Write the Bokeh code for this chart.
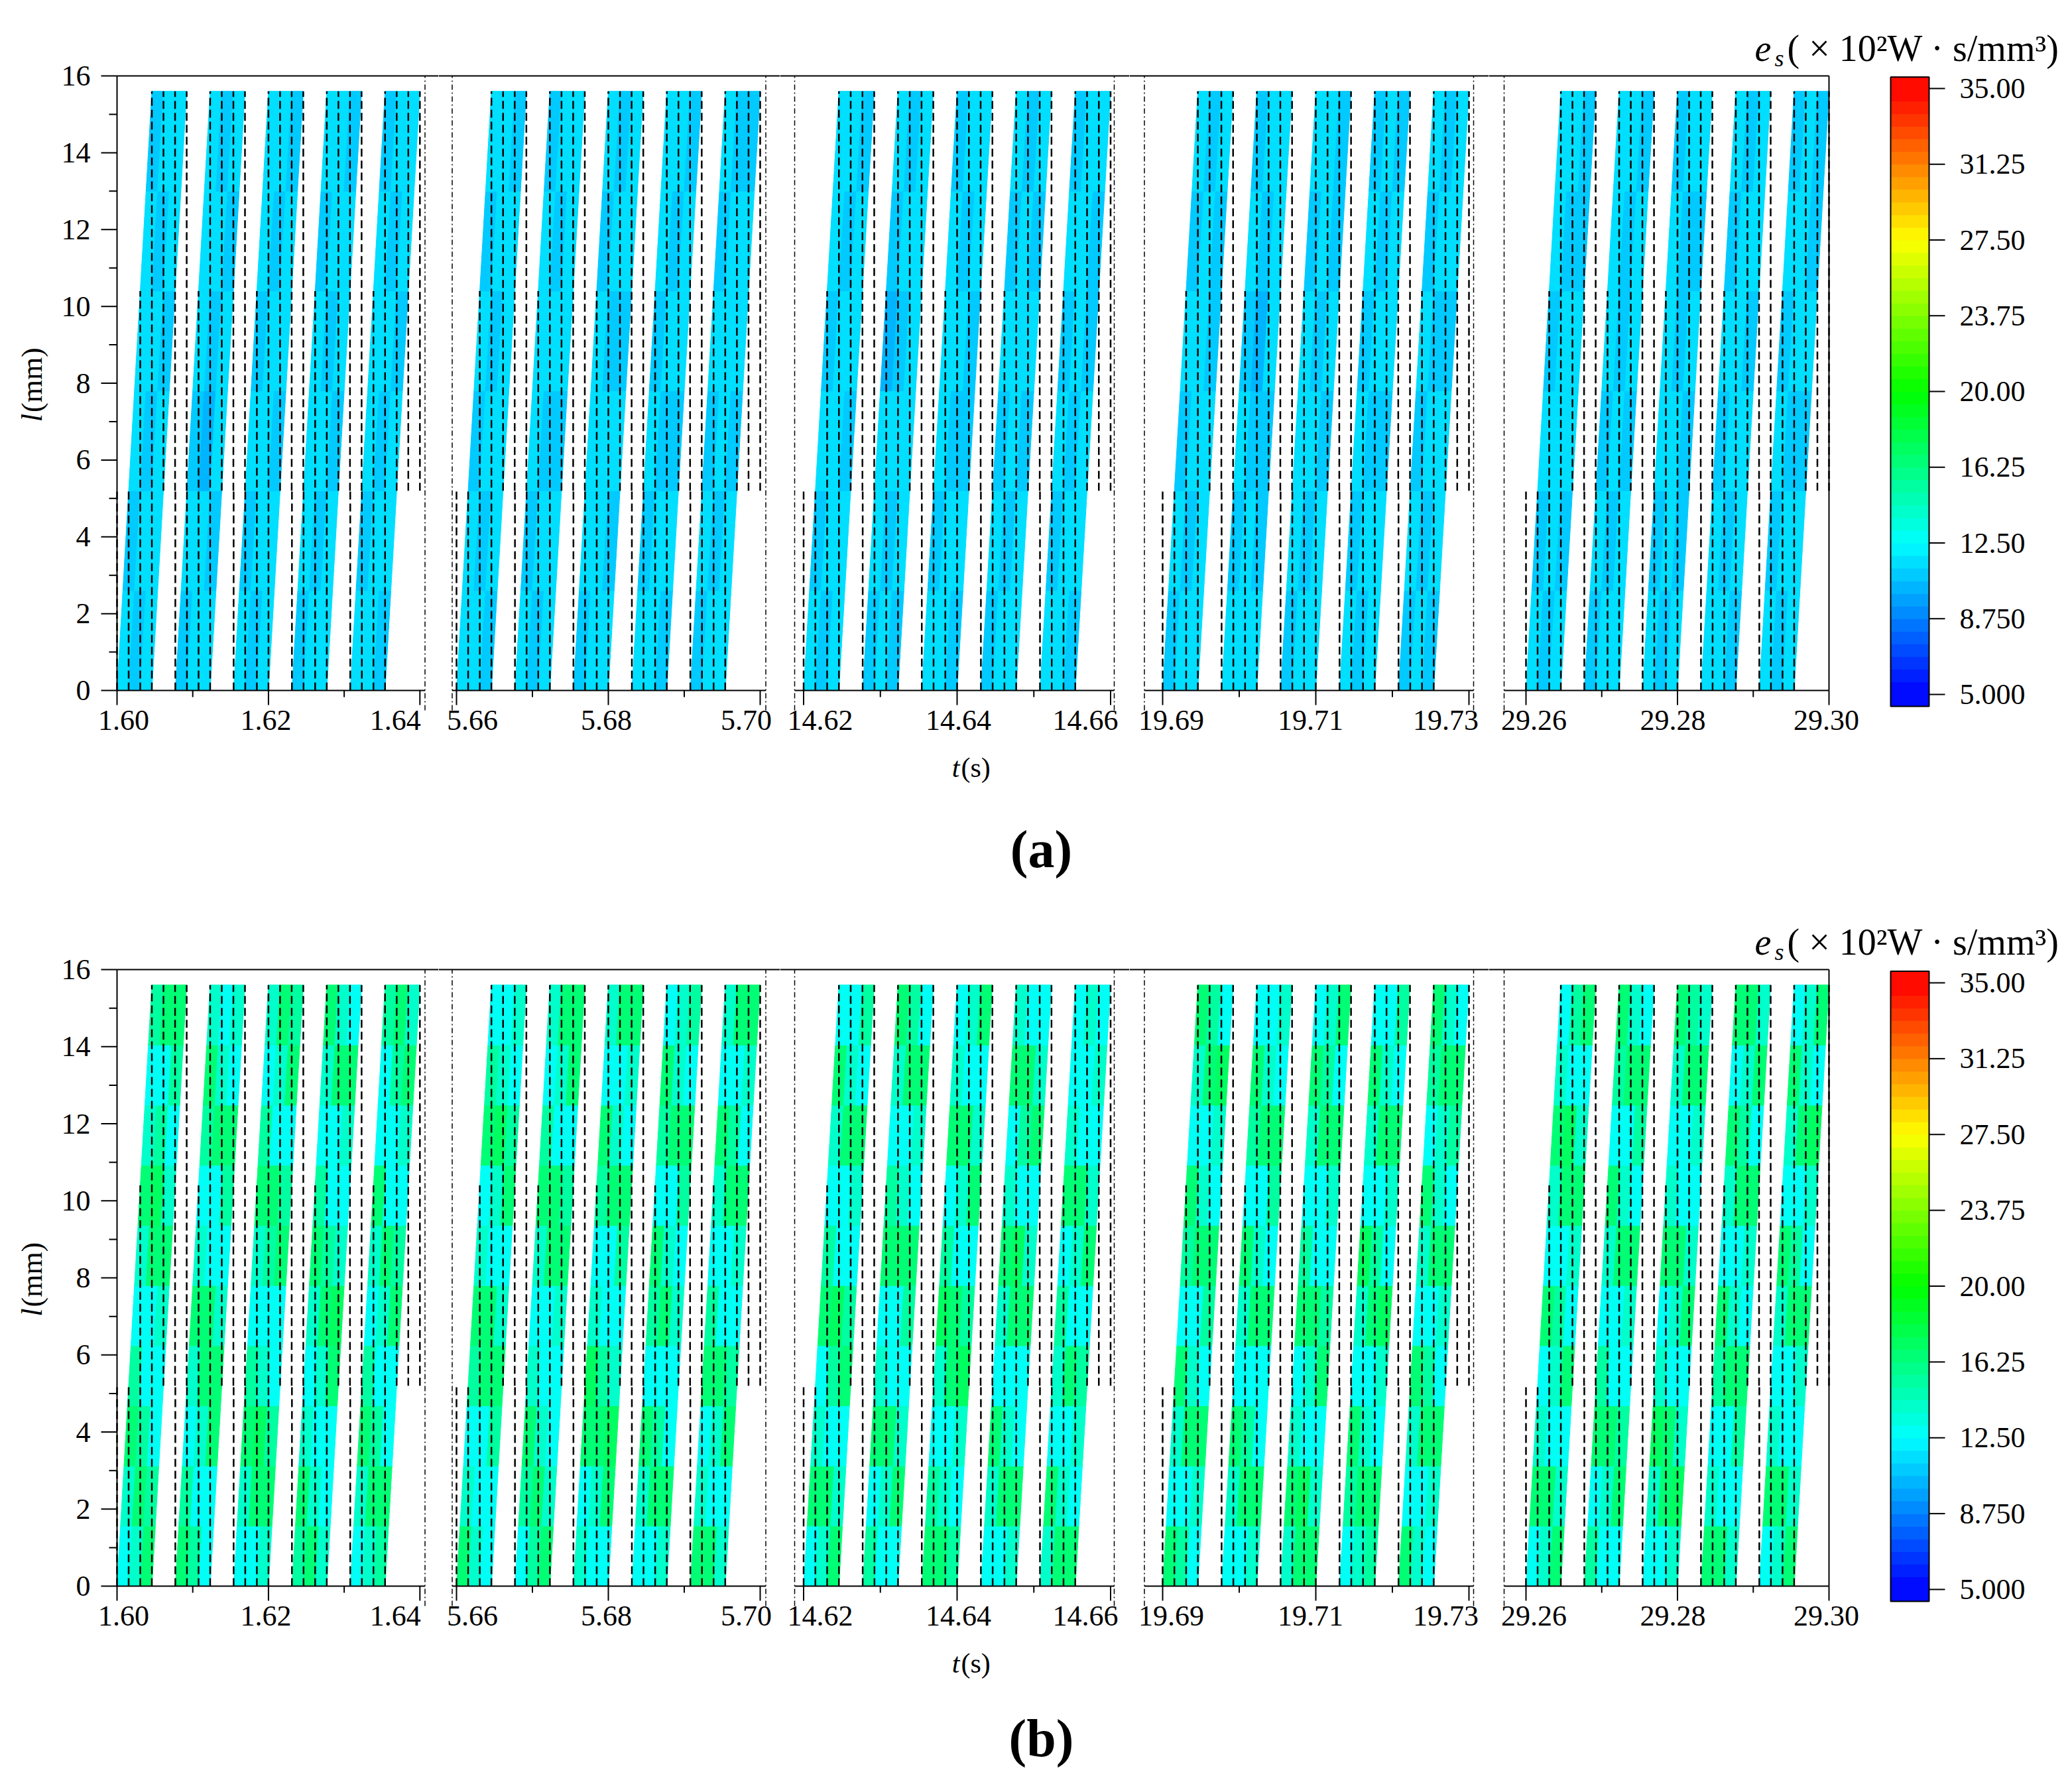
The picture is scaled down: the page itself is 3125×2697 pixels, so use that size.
from math import pi
import numpy as np
from bokeh.plotting import figure
from bokeh.models import Range1d, Label, ColumnDataSource
from bokeh.layouts import row, column
from bokeh.core.properties import value
from bokeh.embed import file_html
from bokeh.resources import INLINE
from bokeh.transform import linear_cmap

FONT = "Liberation Serif"

# ------------------------------------------------------------------ data
Y_TICKS = [0, 2, 4, 6, 8, 10, 12, 14, 16]
Y_MINOR = [1, 3, 5, 7, 9, 11, 13, 15]
Y_LABELS = ["0", "2", "4", "6", "8", "10", "12", "14", "16"]

SEG_TICKS = [[1.60, 1.62, 1.64], [5.66, 5.68, 5.70], [14.62, 14.64, 14.66],
             [19.69, 19.71, 19.73], [29.26, 29.28, 29.30]]
SEG_MINOR = [[1.61, 1.63], [5.67, 5.69], [14.63, 14.65], [19.70, 19.72], [29.27, 29.29]]
SEG_LABELS = [["1.60", "1.62", "1.64"], ["5.66", "5.68", "5.70"], ["14.62", "14.64", "14.66"],
              ["19.69", "19.71", "19.73"], ["29.26", "29.28", "29.30"]]
# axis extent of each time window (break marks at both ends)
SEG_BOUNDS = [(1.600000, 1.640674), (5.659432, 5.700742), (14.618834, 14.660475),
              (19.687619, 19.730606), (29.257112, 29.300000)]

# start time (at l = 0) of each band in each time window
BAND_T0_1 = [1.6000, 1.6077, 1.6154, 1.6231, 1.6308]
BAND_T0_2 = [5.6600, 5.6677, 5.6754, 5.6831, 5.6908]
BAND_T0_3 = [14.6200, 14.6277, 14.6354, 14.6431, 14.6508]
BAND_T0_4 = [19.6900, 19.6977, 19.7054, 19.7131, 19.7208]
BAND_T0_5 = [29.2600, 29.2677, 29.2754, 29.2831, 29.2908]
BAND_WIDTH = 0.0046   # time extent of a band at a given l
BAND_LEAN = 0.0046    # time shift of a band between l = 0 and its top
BAND_TOP = 15.6       # mm

CB_TICKS = [5.0, 8.75, 12.5, 16.25, 20.0, 23.75, 27.5, 31.25, 35.0]
CB_LABELS = ["5.000", "8.750", "12.50", "16.25", "20.00", "23.75", "27.50", "31.25", "35.00"]
CB_COLORS = ["#0000ff", "#0080ff", "#00ffff", "#00ff80", "#00ff00",
             "#80ff00", "#ffff00", "#ff8000", "#ff0000"]
N_LEVELS = 48
CB_LO, CB_HI = 4.41, 35.57

# e_s (x10^2 W s/mm^3): per band, rows bottom->top, 3 columns left->right
ES_A_1 = [
    [[11.6, 10.9, 11.6], [10.9, 11.6, 11.6], [11.6, 10.9, 11.6], [11.6, 11.6, 10.9], [11.6, 10.9, 11.6], [10.9, 11.6, 11.6]],
    [[10.9, 11.6, 11.6], [11.6, 11.6, 10.9], [10.9, 10.3, 11.6], [11.6, 10.9, 11.6], [11.6, 11.6, 10.9], [11.6, 10.9, 11.6]],
    [[11.6, 10.9, 11.6], [10.9, 11.6, 11.6], [11.6, 11.6, 10.9], [10.9, 11.6, 11.6], [11.6, 10.9, 11.6], [11.6, 11.6, 10.9]],
    [[10.9, 11.6, 11.6], [11.6, 10.9, 11.6], [11.6, 11.6, 10.9], [11.6, 10.9, 11.6], [10.9, 11.6, 11.6], [11.6, 11.6, 10.9]],
    [[11.6, 11.6, 10.9], [10.9, 11.6, 11.6], [11.6, 10.9, 11.6], [11.6, 11.6, 10.9], [11.6, 10.9, 11.6], [10.9, 11.6, 11.6]],
]
ES_A_2 = [
    [[11.6, 11.6, 10.9], [11.6, 10.9, 11.6], [10.9, 11.6, 11.6], [11.6, 10.9, 11.6], [10.9, 11.6, 11.6], [11.6, 11.6, 10.9]],
    [[11.6, 10.9, 11.6], [10.9, 11.6, 11.6], [11.6, 10.9, 10.9], [11.6, 11.6, 11.6], [11.6, 10.9, 11.6], [10.9, 11.6, 11.6]],
    [[10.9, 11.6, 11.6], [11.6, 11.6, 10.9], [11.6, 11.6, 11.6], [11.6, 10.9, 10.9], [10.9, 11.6, 11.6], [11.6, 10.9, 11.6]],
    [[11.6, 11.6, 10.9], [10.9, 11.6, 11.6], [11.6, 10.9, 10.9], [10.9, 11.6, 11.6], [11.6, 10.9, 11.6], [11.6, 11.6, 10.9]],
    [[10.9, 11.6, 11.6], [11.6, 10.9, 11.6], [10.9, 11.6, 10.9], [11.6, 11.6, 11.6], [10.9, 11.6, 11.6], [11.6, 10.9, 10.9]],
]
ES_A_3 = [
    [[11.6, 10.9, 11.6], [10.9, 11.6, 11.6], [11.6, 11.6, 10.9], [10.9, 11.6, 11.6], [11.6, 10.9, 11.6], [11.6, 11.6, 10.9]],
    [[10.9, 11.6, 10.9], [11.6, 10.9, 11.6], [11.6, 11.6, 11.6], [10.3, 10.9, 11.6], [10.9, 11.6, 11.6], [11.6, 10.9, 11.6]],
    [[11.6, 11.6, 10.9], [10.9, 11.6, 11.6], [11.6, 10.9, 10.9], [11.6, 11.6, 10.9], [11.6, 10.9, 11.6], [10.9, 11.6, 11.6]],
    [[10.9, 11.6, 11.6], [11.6, 10.9, 11.6], [10.9, 11.6, 10.9], [11.6, 11.6, 11.6], [10.9, 11.6, 10.9], [11.6, 10.9, 11.6]],
    [[11.6, 11.6, 10.9], [10.9, 11.6, 11.6], [11.6, 10.9, 11.6], [10.9, 11.6, 10.9], [11.6, 11.6, 10.9], [10.9, 11.6, 11.6]],
]
ES_A_4 = [
    [[10.9, 11.6, 11.6], [11.6, 10.9, 11.6], [10.9, 11.6, 11.6], [11.6, 11.6, 10.9], [10.9, 11.6, 10.9], [11.6, 10.9, 11.6]],
    [[11.6, 11.6, 11.6], [10.9, 11.6, 10.9], [11.6, 10.9, 10.9], [10.9, 10.3, 11.6], [11.6, 10.9, 11.6], [10.9, 11.6, 11.6]],
    [[10.9, 11.6, 11.6], [11.6, 10.9, 11.6], [11.6, 11.6, 10.9], [11.6, 10.9, 11.6], [10.9, 11.6, 10.9], [11.6, 11.6, 10.9]],
    [[11.6, 10.9, 11.6], [10.9, 11.6, 11.6], [11.6, 10.9, 10.9], [10.9, 11.6, 11.6], [11.6, 10.9, 11.6], [10.9, 11.6, 10.9]],
    [[10.9, 11.6, 10.9], [11.6, 10.9, 11.6], [10.9, 11.6, 11.6], [11.6, 10.9, 10.9], [10.9, 11.6, 11.6], [11.6, 10.9, 11.6]],
]
ES_A_5 = [
    [[11.6, 10.9, 11.6], [10.9, 11.6, 10.9], [11.6, 11.6, 11.6], [10.9, 11.6, 11.6], [11.6, 10.9, 10.9], [11.6, 11.6, 10.9]],
    [[10.9, 11.6, 11.6], [11.6, 10.9, 11.6], [10.9, 11.6, 10.9], [11.6, 10.9, 11.6], [11.6, 10.9, 11.6], [11.6, 11.6, 10.9]],
    [[11.6, 10.9, 11.6], [10.9, 11.6, 10.9], [11.6, 11.6, 10.9], [11.6, 10.9, 11.6], [11.6, 10.9, 10.9], [10.9, 11.6, 11.6]],
    [[11.6, 11.6, 10.9], [11.6, 10.9, 11.6], [10.9, 11.6, 11.6], [11.6, 11.6, 10.9], [10.9, 11.6, 11.6], [11.6, 10.9, 11.6]],
    [[11.6, 10.9, 11.6], [10.9, 11.6, 11.6], [11.6, 10.9, 10.9], [10.9, 11.6, 11.6], [11.6, 11.6, 10.9], [10.9, 11.6, 10.9]],
]

ES_B_1 = [
    [[12.8, 14.0, 16.6], [14.0, 16.6, 15.3], [16.6, 15.3, 12.8], [15.3, 12.8, 12.8], [12.8, 12.8, 14.0],
     [14.0, 16.6, 16.6], [16.6, 17.2, 14.0], [14.0, 15.3, 12.8], [12.8, 12.8, 15.3], [15.3, 16.6, 16.6]],
    [[16.6, 15.3, 12.8], [15.3, 12.8, 12.8], [12.8, 14.0, 16.6], [14.0, 16.6, 16.6], [16.6, 16.6, 14.0],
     [14.0, 12.8, 12.8], [12.8, 12.8, 15.3], [15.3, 16.6, 16.6], [16.6, 14.0, 12.8], [14.0, 12.8, 14.0]],
    [[12.8, 12.8, 14.0], [14.0, 16.6, 16.6], [16.6, 17.2, 15.3], [15.3, 14.0, 12.8], [12.8, 12.8, 12.8],
     [14.0, 15.3, 16.6], [16.6, 16.6, 15.3], [15.3, 12.8, 12.8], [12.8, 14.0, 16.6], [14.0, 16.6, 15.3]],
    [[15.3, 16.6, 14.0], [16.6, 14.0, 12.8], [14.0, 12.8, 12.8], [12.8, 14.0, 16.6], [14.0, 16.6, 17.2],
     [16.6, 15.3, 14.0], [15.3, 12.8, 12.8], [12.8, 12.8, 14.0], [14.0, 16.6, 16.6], [16.6, 14.0, 12.8]],
    [[12.8, 14.0, 15.3], [14.0, 16.6, 16.6], [16.6, 15.3, 12.8], [15.3, 12.8, 12.8], [12.8, 14.0, 16.6],
     [14.0, 16.6, 15.3], [16.6, 12.8, 12.8], [12.8, 12.8, 14.0], [12.8, 15.3, 16.6], [15.3, 16.6, 14.0]],
]
ES_B_2 = [
    [[16.6, 14.0, 12.8], [14.0, 12.8, 12.8], [12.8, 12.8, 15.3], [15.3, 16.6, 16.6], [16.6, 16.6, 14.0],
     [14.0, 12.8, 12.8], [12.8, 14.0, 16.6], [16.6, 17.2, 15.3], [15.3, 14.0, 12.8], [12.8, 12.8, 14.0]],
    [[12.8, 15.3, 16.6], [15.3, 16.6, 14.0], [16.6, 14.0, 12.8], [14.0, 12.8, 12.8], [12.8, 12.8, 14.0],
     [14.0, 16.6, 16.6], [16.6, 16.6, 15.3], [15.3, 12.8, 12.8], [12.8, 14.0, 16.6], [14.0, 16.6, 16.6]],
    [[14.0, 12.8, 12.8], [12.8, 14.0, 16.6], [16.6, 16.6, 17.2], [17.2, 15.3, 14.0], [14.0, 12.8, 12.8],
     [12.8, 12.8, 15.3], [15.3, 16.6, 16.6], [16.6, 14.0, 12.8], [12.8, 12.8, 14.0], [14.0, 16.6, 16.6]],
    [[12.8, 12.8, 14.0], [14.0, 16.6, 16.6], [16.6, 15.3, 12.8], [12.8, 12.8, 12.8], [15.3, 16.6, 14.0],
     [16.6, 14.0, 12.8], [12.8, 12.8, 15.3], [15.3, 16.6, 16.6], [16.6, 14.0, 12.8], [12.8, 14.0, 15.3]],
    [[16.6, 16.6, 14.0], [14.0, 12.8, 12.8], [12.8, 14.0, 16.6], [16.6, 16.6, 15.3], [15.3, 12.8, 12.8],
     [12.8, 12.8, 14.0], [14.0, 16.6, 16.6], [16.6, 15.3, 12.8], [12.8, 12.8, 14.0], [14.0, 16.6, 16.6]],
]
ES_B_3 = [
    [[12.8, 14.0, 16.6], [16.6, 16.6, 14.0], [14.0, 12.8, 12.8], [12.8, 15.3, 16.6], [16.6, 17.2, 15.3],
     [15.3, 12.8, 12.8], [12.8, 12.8, 14.0], [14.0, 16.6, 16.6], [16.6, 14.0, 12.8], [12.8, 12.8, 15.3]],
    [[15.3, 12.8, 12.8], [12.8, 14.0, 16.6], [16.6, 16.6, 14.0], [14.0, 12.8, 12.8], [12.8, 12.8, 15.3],
     [16.6, 16.6, 16.6], [15.3, 14.0, 12.8], [12.8, 12.8, 14.0], [14.0, 16.6, 16.6], [16.6, 15.3, 12.8]],
    [[16.6, 16.6, 15.3], [15.3, 14.0, 12.8], [12.8, 12.8, 14.0], [14.0, 16.6, 17.2], [17.2, 16.6, 15.3],
     [15.3, 12.8, 12.8], [12.8, 14.0, 16.6], [16.6, 16.6, 14.0], [14.0, 12.8, 12.8], [12.8, 14.0, 16.6]],
    [[12.8, 12.8, 14.0], [14.0, 16.6, 16.6], [16.6, 14.0, 12.8], [12.8, 12.8, 12.8], [14.0, 16.6, 16.6],
     [16.6, 17.2, 14.0], [14.0, 12.8, 12.8], [12.8, 15.3, 16.6], [16.6, 16.6, 14.0], [14.0, 12.8, 12.8]],
    [[14.0, 16.6, 16.6], [16.6, 14.0, 12.8], [12.8, 12.8, 14.0], [14.0, 16.6, 15.3], [15.3, 12.8, 12.8],
     [12.8, 14.0, 16.6], [16.6, 16.6, 14.0], [14.0, 12.8, 12.8], [12.8, 12.8, 14.0], [12.8, 14.0, 12.8]],
]
ES_B_4 = [
    [[16.6, 15.3, 12.8], [12.8, 12.8, 14.0], [14.0, 16.6, 16.6], [16.6, 14.0, 12.8], [12.8, 12.8, 15.3],
     [15.3, 16.6, 16.6], [16.6, 14.0, 12.8], [12.8, 12.8, 14.0], [14.0, 16.6, 17.2], [16.6, 15.3, 12.8]],
    [[12.8, 12.8, 14.0], [14.0, 16.6, 16.6], [16.6, 15.3, 12.8], [12.8, 12.8, 12.8], [14.0, 16.6, 16.6],
     [16.6, 14.0, 12.8], [12.8, 12.8, 15.3], [15.3, 16.6, 16.6], [16.6, 14.0, 12.8], [12.8, 12.8, 14.0]],
    [[14.0, 16.6, 16.6], [16.6, 17.2, 14.0], [14.0, 12.8, 12.8], [12.8, 14.0, 16.6], [16.6, 16.6, 15.3],
     [15.3, 12.8, 12.8], [12.8, 12.8, 14.0], [14.0, 16.6, 16.6], [16.6, 15.3, 12.8], [12.8, 14.0, 16.6]],
    [[12.8, 14.0, 15.3], [15.3, 16.6, 16.6], [16.6, 14.0, 12.8], [12.8, 12.8, 14.0], [14.0, 16.6, 17.2],
     [17.2, 15.3, 12.8], [12.8, 12.8, 14.0], [14.0, 16.6, 16.6], [16.6, 14.0, 12.8], [12.8, 12.8, 15.3]],
    [[16.6, 14.0, 12.8], [12.8, 12.8, 14.0], [14.0, 16.6, 16.6], [16.6, 15.3, 12.8], [12.8, 12.8, 14.0],
     [14.0, 16.6, 16.6], [16.6, 14.0, 12.8], [12.8, 14.0, 15.3], [15.3, 16.6, 16.6], [16.6, 14.0, 12.8]],
]
ES_B_5 = [
    [[12.8, 14.0, 16.6], [16.6, 16.6, 14.0], [14.0, 12.8, 12.8], [12.8, 14.0, 16.6], [16.6, 15.3, 12.8],
     [12.8, 12.8, 14.0], [14.0, 16.6, 16.6], [16.6, 17.2, 14.0], [14.0, 12.8, 12.8], [12.8, 15.3, 16.6]],
    [[15.3, 12.8, 12.8], [12.8, 14.0, 16.6], [16.6, 16.6, 15.3], [15.3, 12.8, 12.8], [12.8, 12.8, 14.0],
     [14.0, 16.6, 16.6], [16.6, 14.0, 12.8], [12.8, 12.8, 15.3], [15.3, 16.6, 16.6], [16.6, 14.0, 12.8]],
    [[12.8, 12.8, 14.0], [14.0, 16.6, 17.2], [17.2, 16.6, 14.0], [14.0, 12.8, 12.8], [12.8, 14.0, 16.6],
     [16.6, 16.6, 14.0], [14.0, 12.8, 12.8], [12.8, 12.8, 14.0], [14.0, 16.6, 16.6], [16.6, 15.3, 14.0]],
    [[16.6, 16.6, 14.0], [14.0, 12.8, 12.8], [12.8, 12.8, 15.3], [15.3, 16.6, 16.6], [16.6, 14.0, 12.8],
     [12.8, 12.8, 14.0], [14.0, 16.6, 16.6], [16.6, 15.3, 12.8], [12.8, 14.0, 16.6], [16.6, 16.6, 14.0]],
    [[12.8, 14.0, 16.6], [16.6, 16.6, 14.0], [14.0, 12.8, 12.8], [12.8, 12.8, 14.0], [14.0, 16.6, 16.6],
     [16.6, 15.3, 12.8], [12.8, 12.8, 14.0], [14.0, 16.6, 17.2], [16.6, 14.0, 12.8], [12.8, 14.0, 16.6]],
]

BAND_T0 = [BAND_T0_1, BAND_T0_2, BAND_T0_3, BAND_T0_4, BAND_T0_5]
ES_A = [ES_A_1, ES_A_2, ES_A_3, ES_A_4, ES_A_5]
ES_B = [ES_B_1, ES_B_2, ES_B_3, ES_B_4, ES_B_5]

# ------------------------------------------------------------------ layout / style (page pixels)
PANEL_A = dict(top=0, y16=114, y0=1041, bottom=1121, cb35=133, cb5=1047, title_base=72)
PANEL_B = dict(top=1340, y16=1462, y0=2392, bottom=2472, cb35=1482, cb5=2397, title_base=1420)
# (canvas left, canvas right, reference tick, its pixel x, pixels per second)
SEG_PX = [(0, 661, 1.60, 176, 11420), (661, 1176, 5.66, 688, 11450),
          (1176, 1703, 14.62, 1211.5, 11575), (1703, 2245, 19.69, 1753, 11550),
          (2245, 3117, 29.26, 2301, 11425)]
CB_BAR_PX = (2851, 2909)
TITLE_X = (2646, 2676, 2695)
LABEL_SHIFT = [[10, -4, -37], [24, -3, -21], [25, 2, -38], [13, -8, -35], [12, -7, -4]]
COL_EXTENT = [(0, 1 / 3), (0, 1 / 3), (0, 2 / 3), (0, 1), (1 / 3, 1), (1 / 3, 1), (1 / 3, 1)]
TOTAL_W = 3117


def hex_rgb(h):
    return tuple(int(h[i:i + 2], 16) for i in (1, 3, 5))


def level_color(v):
    i = int(np.clip(np.searchsorted(CB_TICKS, v) - 1, 0, len(CB_TICKS) - 2))
    f = (v - CB_TICKS[i]) / (CB_TICKS[i + 1] - CB_TICKS[i])
    a, b = hex_rgb(CB_COLORS[i]), hex_rgb(CB_COLORS[i + 1])
    return "#%02x%02x%02x" % tuple(int(round(x + (y - x) * f)) for x, y in zip(a, b))


LEVEL_W = (CB_TICKS[-1] - CB_TICKS[0]) / N_LEVELS
PALETTE = [level_color(CB_TICKS[0] + (k + 0.5) * LEVEL_W) for k in range(N_LEVELS)]

TXT = dict(text_font=value(FONT), text_font_size=value("44px"), text_color="black")


def lab(**kw):
    base = dict(x_units="screen", y_units="screen", text_font=FONT,
                text_color="black", text_font_size="44px")
    base.update(kw)
    return Label(**base)


def add_colorbar_and_title(p, P, left):
    c_top, c_bot = P["top"], P["bottom"]
    bx0, bx1 = CB_BAR_PX
    bw = bx1 - bx0
    upx = (P["cb5"] - P["cb35"]) / (CB_TICKS[-1] - CB_TICKS[0])
    p.extra_x_ranges = {"cbx": Range1d(-(bx0 - left) / bw, (TOTAL_W - bx0) / bw)}
    p.extra_y_ranges = {"cb": Range1d(CB_TICKS[0] - (c_bot - P["cb5"]) / upx,
                                      CB_TICKS[-1] + (P["cb35"] - c_top) / upx)}
    edges = [CB_LO] + [CB_TICKS[0] + LEVEL_W * k for k in range(N_LEVELS + 1)] + [CB_HI]
    cols = [PALETTE[0]] + PALETTE + [PALETTE[-1]]
    kw = dict(x_range_name="cbx", y_range_name="cb")
    p.quad(left=0, right=1, bottom=edges[:-1], top=edges[1:], fill_color=cols,
           line_color=cols, **kw)
    p.quad(left=[0], right=[1], bottom=[CB_LO], top=[CB_HI], fill_color=None,
           line_color="black", line_width=2, **kw)
    p.ray(x=1, y=CB_TICKS, length=24, length_units="screen", angle=0,
          line_color="black", line_width=2, **kw)
    p.text(x=1, y=CB_TICKS, text=CB_LABELS, x_offset=46, text_align="left",
           text_baseline="middle", **TXT, **kw)
    base = c_bot - P["title_base"]
    ex, sx, mx = TITLE_X
    p.add_layout(lab(x=ex - left, y=base, text="e", text_font_style="italic",
                     text_font_size="56px", text_baseline="alphabetic"))
    p.add_layout(lab(x=sx - left, y=base - 15, text="s", text_font_style="italic",
                     text_font_size="36px", text_baseline="alphabetic"))
    p.add_layout(lab(x=mx - left, y=base, text="( × 10²W · s/mm³)",
                     text_font_size="56px", text_baseline="alphabetic"))


def seg_figure(k, es, P):
    left, right, tref, tpx, pps = SEG_PX[k]
    c_top, c_bot = P["top"], P["bottom"]
    s = (P["y0"] - P["y16"]) / 16.0
    x0 = tref + (left - tpx) / pps
    x1 = tref + (right - tpx) / pps
    y_hi = 16 + (P["y16"] - c_top) / s
    y_lo = -(c_bot - P["y0"]) / s
    p = figure(frame_width=right - left, frame_height=c_bot - c_top,
               x_range=Range1d(x0, x1), y_range=Range1d(y_lo, y_hi),
               min_border=0, x_axis_location=None, y_axis_location=None,
               toolbar_location=None, output_backend="svg")
    p.outline_line_color = None
    p.grid.visible = False

    # bands (contour cells)
    starts = BAND_T0[k]
    xs, ys, vs = [], [], []
    for t0, band in zip(starts, es):
        nr, nc = len(band), len(band[0])
        for r, rowv in enumerate(band):
            l0, l1 = BAND_TOP * r / nr, BAND_TOP * (r + 1) / nr
            s0, s1 = BAND_LEAN * l0 / BAND_TOP, BAND_LEAN * l1 / BAND_TOP
            for q, v in enumerate(rowv):
                a, b = BAND_WIDTH * q / nc, BAND_WIDTH * (q + 1) / nc
                xs.append([t0 + s0 + a, t0 + s0 + b, t0 + s1 + b, t0 + s1 + a])
                ys.append([l0, l0, l1, l1])
                vs.append(v)
    src = ColumnDataSource(dict(xs=xs, ys=ys, v=vs))
    cmap = linear_cmap("v", PALETTE, CB_TICKS[0], CB_TICKS[-1])
    p.patches("xs", "ys", source=src, fill_color=cmap, line_color=cmap, line_width=1)

    # dashed column lines
    cw = BAND_WIDTH / 3
    cx, cy0, cy1 = [], [], []
    for t0 in starts:
        for j, (f0, f1) in enumerate(COL_EXTENT):
            cx.append(t0 + j * cw)
            cy0.append(BAND_TOP * f0)
            cy1.append(BAND_TOP * f1)
    p.segment(x0=cx, y0=cy0, x1=cx, y1=cy1, line_color="black", line_width=2.5,
              line_dash="12 6")

    lo, hi = SEG_BOUNDS[k]
    below = -30 / s
    top_l = lo if k == 0 else x0
    top_r = hi if k == 4 else x1
    p.segment(x0=[top_l], y0=[16], x1=[top_r], y1=[16], line_color="black", line_width=2)
    p.segment(x0=[lo], y0=[0], x1=[hi], y1=[0], line_color="black", line_width=2)
    brk = ([lo] if k > 0 else []) + ([hi] if k < 4 else [])
    p.segment(x0=brk, y0=[below] * len(brk), x1=brk, y1=[16] * len(brk),
              line_color="black", line_width=1.5, line_dash="8 4 2 4")
    if k == 4:
        p.segment(x0=[hi], y0=[0], x1=[hi], y1=[16], line_color="black", line_width=2)

    # x ticks and labels
    p.ray(x=SEG_TICKS[k], y=0, length=22, length_units="screen", angle=-pi / 2,
          line_color="black", line_width=2)
    p.ray(x=SEG_MINOR[k], y=0, length=10, length_units="screen", angle=-pi / 2,
          line_color="black", line_width=2)
    p.text(x=SEG_TICKS[k], y=[below] * 3, text=SEG_LABELS[k], x_offset=LABEL_SHIFT[k],
           text_align="center", text_baseline="top", **TXT)

    if k == 0:
        p.segment(x0=[lo], y0=[0], x1=[lo], y1=[16], line_color="black", line_width=2)
        p.ray(x=lo, y=Y_TICKS, length=24, length_units="screen", angle=pi,
              line_color="black", line_width=2)
        p.ray(x=lo, y=Y_MINOR, length=12, length_units="screen", angle=pi,
              line_color="black", line_width=2)
        p.text(x=lo, y=Y_TICKS, text=Y_LABELS, x_offset=-40, text_align="right",
               text_baseline="middle", **TXT)
        split = 8 - 45 / s
        p.text(x=lo, y=[split - 1 / s], text=["l"], x_offset=-128, angle=pi / 2,
               text_align="right", text_baseline="middle",
               text_font_style="italic", **TXT)
        p.text(x=lo, y=[split + 1 / s], text=["(mm)"], x_offset=-128, angle=pi / 2,
               text_align="left", text_baseline="middle", **TXT)
    if k == 4:
        add_colorbar_and_title(p, P, left)
    return p


def plain(w, h):
    p = figure(width=w, height=h, x_range=Range1d(0, 1), y_range=Range1d(0, 1),
               min_border=0, x_axis_location=None, y_axis_location=None,
               toolbar_location=None, output_backend="svg")
    p.outline_line_color = None
    p.grid.visible = False
    return p


def bottom_strip(h, y_t, y_tag, tag):
    p = plain(TOTAL_W, h)
    p.add_layout(lab(x=1447, y=y_t, text="t", text_font_style="italic",
                     text_font_size="42px", text_align="right", text_baseline="middle"))
    p.add_layout(lab(x=1449, y=y_t, text="(s)", text_font_size="42px",
                     text_align="left", text_baseline="middle"))
    p.add_layout(lab(x=1570, y=y_tag, text=tag, text_font_style="bold",
                     text_font_size="80px", text_align="center", text_baseline="middle"))
    return p


def panel(P, es):
    return row([seg_figure(k, es[k], P) for k in range(5)], spacing=0)


layout = column([panel(PANEL_A, ES_A), bottom_strip(219, 183, 60, "(a)"),
                 panel(PANEL_B, ES_B), bottom_strip(216, 180, 67, "(b)")], spacing=0)

open("out.html", "w").write(file_html(layout, INLINE))
